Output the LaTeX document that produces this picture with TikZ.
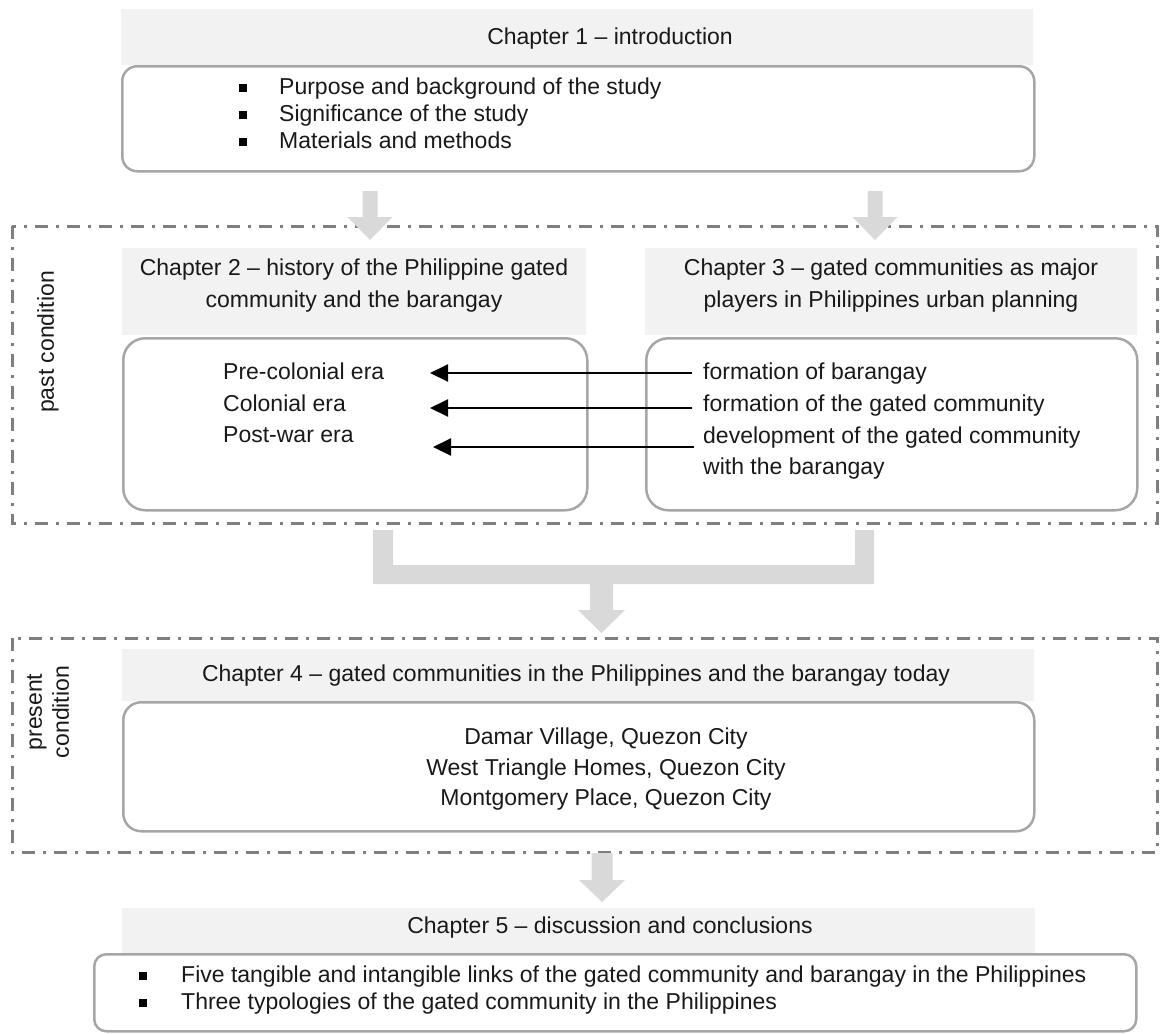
\documentclass[tikz,border=0pt]{standalone}
\usepackage{fontspec}
\setmainfont{Liberation Sans}
\usetikzlibrary{arrows.meta}
\definecolor{hdrfill}{HTML}{F2F2F2}
\definecolor{blkfill}{HTML}{D9D9D9}
\definecolor{bordc}{HTML}{A6A6A6}
\definecolor{dashc}{HTML}{7F7F7F}
\begin{document}
\begin{tikzpicture}[x=1pt,y=-1pt,
  txt/.style={font=\fontsize{23}{27}\selectfont, inner sep=0pt, text=black!90},
  ttl/.style={font=\fontsize{23}{32}\selectfont, inner sep=0pt, align=center, text=black!90},
  hdr/.style={fill=hdrfill, draw=none, anchor=north west, inner sep=0pt},
  chbox/.style={draw=bordc, line width=2.5pt, anchor=north west, inner sep=0pt},
  ddrect/.style={draw=dashc, line width=3pt, dash pattern=on 13pt off 8pt on 3pt off 8pt},
  blockarrow/.style={fill=blkfill},
  bul/.style={fill=black, minimum size=7.5pt, inner sep=0pt},
  link/.style={draw=black, line width=2pt, -{Triangle[length=18pt,width=17pt]}}]
\useasboundingbox (0,0) rectangle (1160,1034);

% dash-dot frames
\draw[ddrect] (12,226) rectangle (1157,523);
\draw[ddrect] (12,638) rectangle (1157,852);

% chapter 1
\node[hdr, minimum width=912pt, minimum height=56pt] (h1) at (121,9) {};
\node[chbox, rounded corners=15pt, minimum width=912pt, minimum height=105pt] (b1) at (121,65) {};
\node[txt] (t1) at (610,39) {Chapter 1 – introduction};
\node[bul] (u11) at (243,88) {};
\node[bul] (u12) at (243,115) {};
\node[bul] (u13) at (243,142) {};
\node[txt, anchor=mid west] (i11) at (279,92) {Purpose and background of the study};
\node[txt, anchor=mid west] (i12) at (279,119) {Significance of the study};
\node[txt, anchor=mid west] (i13) at (279,146) {Materials and methods};

% chapter 2 and 3
\node[hdr, minimum width=464pt, minimum height=87pt] (h2) at (122,248) {};
\node[chbox, rounded corners=22pt, minimum width=464pt, minimum height=172pt] (b2) at (122,337) {};
\node[hdr, minimum width=492pt, minimum height=87pt] (h3) at (645,248) {};
\node[chbox, rounded corners=22pt, minimum width=491pt, minimum height=172pt] (b3) at (645,337) {};
\node[ttl] (t2) at (354,286) {Chapter 2 – history of the Philippine gated\\community and the barangay};
\node[ttl] (t3) at (891,286) {Chapter 3 – gated communities as major\\players in Philippines urban planning};
\node[txt, anchor=mid west] (l1) at (223,377) {Pre-colonial era};
\node[txt, anchor=mid west] (l2) at (223,409) {Colonial era};
\node[txt, anchor=mid west] (l3) at (223,440) {Post-war era};
\node[txt, anchor=mid west] (r1) at (703,377) {formation of barangay};
\node[txt, anchor=mid west] (r2) at (703,409) {formation of the gated community};
\node[txt, anchor=mid west] (r3) at (703,441) {development of the gated community};
\node[txt, anchor=mid west] (r4) at (703,472) {with the barangay};
\node[txt, rotate=90] (pc) at (48,342) {past condition};

% chapter 4
\node[hdr, minimum width=912pt, minimum height=52pt] (h4) at (122,649) {};
\node[chbox, rounded corners=18pt, minimum width=911pt, minimum height=129pt] (b4) at (122,701) {};
\node[txt] (t4) at (576,676) {Chapter 4 – gated communities in the Philippines and the barangay today};
\node[txt] (c41) at (606,739) {Damar Village, Quezon City};
\node[txt] (c42) at (606,770) {West Triangle Homes, Quezon City};
\node[txt] (c43) at (606,800) {Montgomery Place, Quezon City};
\node[txt, rotate=90, align=center] (prc) at (48,712) {present\\condition};

% chapter 5
\node[hdr, minimum width=913pt, minimum height=45pt] (h5) at (122,908) {};
\node[chbox, rounded corners=12pt, minimum width=1042pt, minimum height=77pt] (b5) at (93,953) {};
\node[txt] (t5) at (610,928) {Chapter 5 – discussion and conclusions};
\node[bul] (u51) at (143,976) {};
\node[bul] (u52) at (143,1003) {};
\node[txt, anchor=mid west] (i51) at (181,980) {Five tangible and intangible links of the gated community and barangay in the Philippines};
\node[txt, anchor=mid west] (i52) at (181,1007) {Three typologies of the gated community in the Philippines};

% block arrows
\fill[blockarrow] (362.5,191) -- (377.5,191) -- (377.5,217) -- (392.5,217) -- (370,240) -- (347.5,217) -- (362.5,217) -- cycle;
\fill[blockarrow] (867.5,191) -- (882.5,191) -- (882.5,217) -- (897.5,217) -- (875,240) -- (852.5,217) -- (867.5,217) -- cycle;
\fill[blockarrow] (373,530) -- (393,530) -- (393,565) -- (855,565) -- (855,530) -- (874,530) -- (874,584)
   -- (613,584) -- (613,610) -- (625,610) -- (601.5,633) -- (578,610) -- (590,610) -- (590,584) -- (373,584) -- cycle;
\fill[blockarrow] (591.5,853) -- (612.5,853) -- (612.5,880) -- (625,880) -- (602,902) -- (579,880) -- (591.5,880) -- cycle;

% links
\coordinate (s1) at (692,373); \coordinate (e1) at (430,373);
\coordinate (s2) at (692,408); \coordinate (e2) at (430,408);
\coordinate (s3) at (694,447); \coordinate (e3) at (433,447);
\draw[link] (s1) -- (e1);
\draw[link] (s2) -- (e2);
\draw[link] (s3) -- (e3);
\end{tikzpicture}
\end{document}
